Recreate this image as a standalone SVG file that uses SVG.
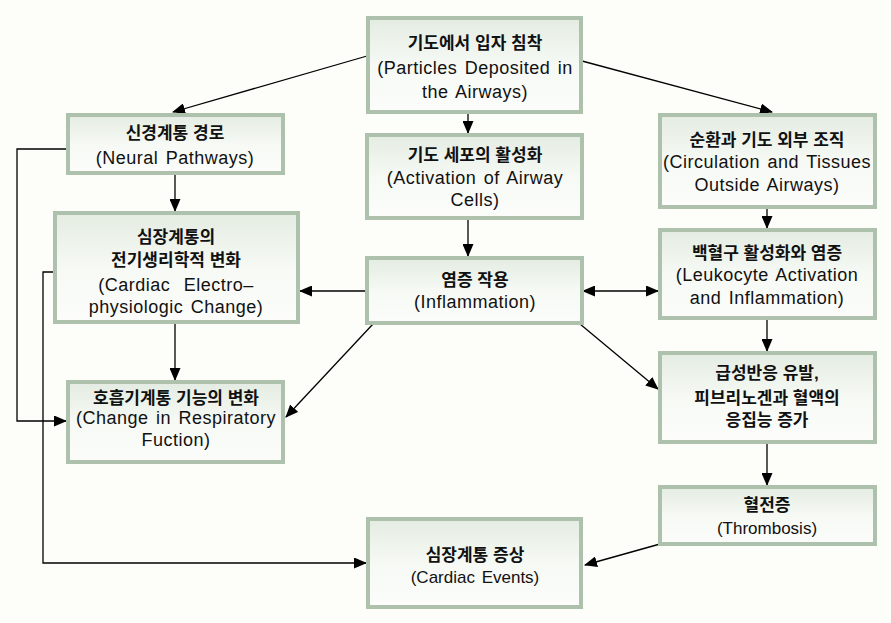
<svg xmlns="http://www.w3.org/2000/svg" width="891" height="623" viewBox="0 0 891 623">
<style>
.bg{fill:#fdfdf9}
.box{fill:url(#g);stroke:#adc1ad;stroke-width:4}
text{font-family:"Liberation Sans","Noto Sans CJK KR",sans-serif;fill:#111;text-anchor:middle}
.k{font-size:17px;font-weight:700}
.e{font-size:18px;letter-spacing:0.5px;word-spacing:2px}
.c{stroke:#000;stroke-width:1.3;fill:none}
.a{marker-end:url(#ah)}
</style>
<defs>
<linearGradient id="g" x1="0" y1="0" x2="0" y2="1">
<stop offset="0" stop-color="#e4ece2"/>
<stop offset="0.5" stop-color="#f6f9f4"/>
<stop offset="1" stop-color="#fcfdfb"/>
</linearGradient>
<marker id="ah" markerUnits="userSpaceOnUse" markerWidth="13" markerHeight="11" viewBox="0 0 13 11" refX="12" refY="5.5" orient="auto-start-reverse">
<path d="M0,0 L13,5.5 L0,11 z" fill="#000"/>
</marker>
</defs>
<rect class="bg" width="891" height="623"/>
<g id="connectors">
<line class="c a" x1="367" y1="56" x2="173" y2="112"/>
<line class="c a" x1="582" y1="61" x2="772" y2="112"/>
<line class="c a" x1="468" y1="113" x2="468" y2="133"/>
<line class="c a" x1="468" y1="219" x2="468" y2="256"/>
<line class="c a" x1="175" y1="174" x2="175" y2="211"/>
<line class="c a" x1="175" y1="323" x2="175" y2="380"/>
<line class="c a" x1="366" y1="291" x2="300" y2="291"/>
<line class="c" x1="583" y1="291" x2="658" y2="291" marker-start="url(#ah)" marker-end="url(#ah)"/>
<line class="c a" x1="373" y1="324" x2="286" y2="417"/>
<line class="c a" x1="580" y1="324" x2="658" y2="389"/>
<line class="c a" x1="767" y1="208" x2="767" y2="228"/>
<line class="c a" x1="767" y1="319" x2="767" y2="351"/>
<line class="c a" x1="767" y1="443" x2="767" y2="485"/>
<line class="c a" x1="660" y1="544" x2="585" y2="565"/>
<polyline class="c a" points="68,149 17,149 17,421 66,421"/>
<polyline class="c a" points="55,272 43,272 43,563 366,563"/>
</g>
<g id="n-particles">
<rect class="box" x="368" y="18" width="213" height="94"/>
<text class="k" x="475" y="49">기도에서 입자 침착</text>
<text class="e" x="475" y="74">(Particles Deposited in</text>
<text class="e" x="475" y="98">the Airways)</text>
</g>
<g id="n-neural">
<rect class="box" x="68" y="115" width="215" height="58"/>
<text class="k" x="175" y="139">신경계통 경로</text>
<text class="e" x="175" y="164">(Neural Pathways)</text>
</g>
<g id="n-activation">
<rect class="box" x="367" y="135" width="215" height="83"/>
<text class="k" x="475" y="161">기도 세포의 활성화</text>
<text class="e" x="475" y="184">(Activation of Airway</text>
<text class="e" x="475" y="206">Cells)</text>
</g>
<g id="n-circulation">
<rect class="box" x="660" y="115" width="215" height="92"/>
<text class="k" x="767" y="146">순환과 기도 외부 조직</text>
<text class="e" x="767" y="168">(Circulation and Tissues</text>
<text class="e" x="767" y="191">Outside Airways)</text>
</g>
<g id="n-cardiac-electro">
<rect class="box" x="55" y="213" width="243" height="109"/>
<text class="k" x="176" y="243">심장계통의</text>
<text class="k" x="176" y="266">전기생리학적 변화</text>
<text class="e" x="176" y="291" style="word-spacing:8px">(Cardiac Electro–</text>
<text class="e" x="176" y="313">physiologic Change)</text>
</g>
<g id="n-inflammation">
<rect class="box" x="367" y="258" width="215" height="65"/>
<text class="k" x="475" y="286">염증 작용</text>
<text class="e" x="475" y="308">(Inflammation)</text>
</g>
<g id="n-leukocyte">
<rect class="box" x="660" y="230" width="215" height="88"/>
<text class="k" x="767" y="259">백혈구 활성화와 염증</text>
<text class="e" x="767" y="281">(Leukocyte Activation</text>
<text class="e" x="767" y="304">and Inflammation)</text>
</g>
<g id="n-respiratory">
<rect class="box" x="68" y="382" width="215" height="80"/>
<text class="k" x="176" y="404">호흡기계통 기능의 변화</text>
<text class="e" x="176" y="424">(Change in Respiratory</text>
<text class="e" x="176" y="446">Fuction)</text>
</g>
<g id="n-acute">
<rect class="box" x="660" y="353" width="215" height="89"/>
<text class="k" x="767" y="379">급성반응 유발,</text>
<text class="k" x="767" y="404">피브리노겐과 혈액의</text>
<text class="k" x="767" y="426">응집능 증가</text>
</g>
<g id="n-thrombosis">
<rect class="box" x="660" y="487" width="215" height="57"/>
<text class="k" x="767" y="511">혈전증</text>
<text class="e" x="767" y="534" style="font-size:17px;letter-spacing:0">(Thrombosis)</text>
</g>
<g id="n-cardiac-events">
<rect class="box" x="368" y="519" width="213" height="88"/>
<text class="k" x="475" y="561">심장계통 증상</text>
<text class="e" x="475" y="583" style="font-size:17px;letter-spacing:0">(Cardiac Events)</text>
</g>
</svg>
